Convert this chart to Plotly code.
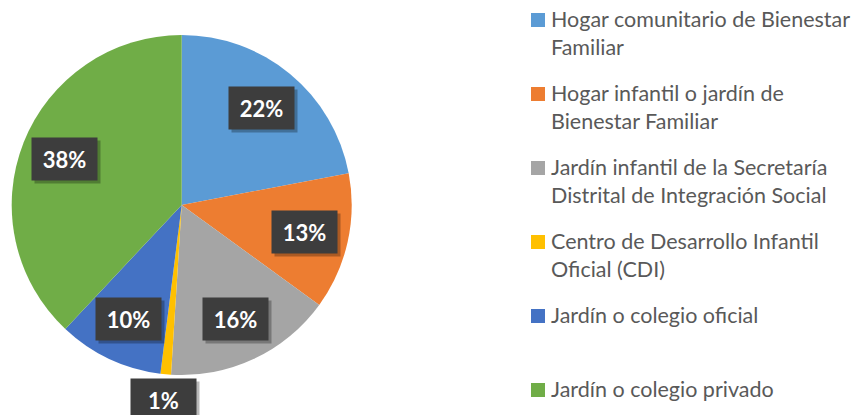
import math

import plotly.graph_objects as go

CATEGORIES = [
    "Hogar comunitario de Bienestar Familiar",
    "Hogar infantil o jardín de Bienestar Familiar",
    "Jardín infantil de la Secretaría Distrital de Integración Social",
    "Centro de Desarrollo Infantil Oficial (CDI)",
    "Jardín o colegio oficial",
    "Jardín o colegio privado",
]
LEGEND_TEXT = [
    "Hogar comunitario de Bienestar<br>Familiar",
    "Hogar infantil o jardín de<br>Bienestar Familiar",
    "Jardín infantil de la Secretaría<br>Distrital de Integración Social",
    "Centro de Desarrollo Infantil<br>Oficial (CDI)",
    "Jardín o colegio oficial",
    "Jardín o colegio privado",
]
SHARES = [22, 13, 16, 1, 10, 38]
COLORS = ["#5B9BD5", "#ED7D31", "#A5A5A5", "#FFC000", "#4472C4", "#70AD47"]

W, H = 866, 415
CX, CY, R = 181.7, 205, 170  # pie centre / radius in px
FONT = "Lato"


def px(x, y):
    return x / W, 1 - y / H


x0, y0 = px(CX - R, CY + R)
x1, y1 = px(CX + R, CY - R)
fig = go.Figure(
    go.Pie(
        labels=CATEGORIES,
        values=SHARES,
        sort=False,
        direction="clockwise",
        rotation=0,
        marker=dict(colors=COLORS, line=dict(width=0)),
        textinfo="none",
        hovertemplate="%{label}: %{percent}<extra></extra>",
        domain=dict(x=[x0, x1], y=[y0, y1]),
        showlegend=False,
    )
)

# data labels: dark boxes (with a small drop shadow) along each slice's mid angle
total = sum(SHARES)
cum = 0
for v in SHARES:
    mid = (cum + v / 2) / total * 2 * math.pi
    cum += v
    f = 0.74 if v / total >= 0.05 else 1.15
    lx, ly = CX + f * R * math.sin(mid), CY - f * R * math.cos(mid)
    for dx, bg, label in [(3, "rgba(0,0,0,0.28)", ""), (0, "#3d3d3d", f"<b>{round(100 * v / total)}%</b>")]:
        x, y = px(lx + dx, ly + dx)
        fig.add_annotation(
            x=x, y=y, xref="paper", yref="paper", showarrow=False,
            xanchor="center", yanchor="middle", text=label,
            font=dict(family=FONT, size=22, color="white"),
            bgcolor=bg, width=63, height=40,
        )

# legend drawn to match the Excel spacing
for i, (txt, col) in enumerate(zip(LEGEND_TEXT, COLORS)):
    base = 27 + 74 * i
    sx0, sy0 = px(531, base - 14)
    sx1, sy1 = px(545, base)
    fig.add_shape(type="rect", xref="paper", yref="paper", x0=sx0, x1=sx1, y0=sy0, y1=sy1,
                  fillcolor=col, line_width=0)
    tx, ty = px(550, base - 22)
    fig.add_annotation(
        x=tx, y=ty, xref="paper", yref="paper", showarrow=False,
        xanchor="left", yanchor="top", align="left", text=txt,
        font=dict(family=FONT, size=21.5, color="#595959"), borderpad=0,
    )

fig.update_layout(
    width=W, height=H,
    margin=dict(l=0, r=0, t=0, b=0),
    paper_bgcolor="white",
    plot_bgcolor="white",
)
# drop the default page margin so the figure fills the window exactly
fig.write_html(
    "out.html",
    config={"displayModeBar": False},
    post_script="document.body.style.margin = '0';",
)
